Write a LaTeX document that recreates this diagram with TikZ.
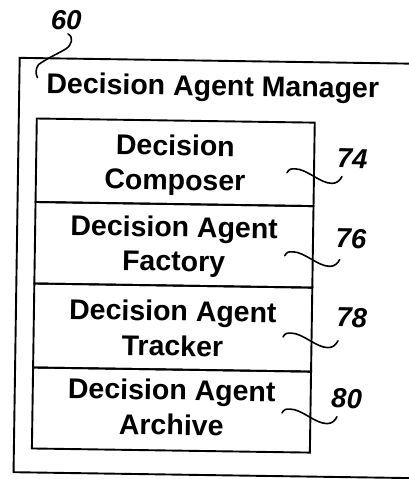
\documentclass[tikz,border=0pt]{standalone}
\usepackage{fontspec}
\setmainfont{Liberation Sans}
\begin{document}
\begin{tikzpicture}[x=1pt,y=-1pt,
  frame/.style={draw,line width=1.9pt,inner sep=0pt,outer sep=0pt},
  boxtext/.style={anchor=base,inner sep=0pt,font=\fontsize{28.5}{34}\selectfont\bfseries},
  refnum/.style={anchor=base,inner sep=0pt,font=\fontsize{27.5}{32}\selectfont\bfseries\itshape},
  leader/.style={draw,line width=1.6pt,line cap=round}]
\useasboundingbox (0,0) rectangle (409,479);
\begin{scope}[rotate around={-0.85:(204,240)},transform shape]
  % outer manager box
  \node[frame,minimum width=397pt,minimum height=414.4pt] (mgr) at (215.5,267.8) {};
  \node[boxtext] (title) at (210.5,95.5) {Decision Agent Manager};
  % inner boxes
  \node[frame,minimum width=278pt,minimum height=83.5pt] (b1) at (174,162.75) {};
  \node[frame,minimum width=278pt,minimum height=81.5pt] (b2) at (174,245.25) {};
  \node[frame,minimum width=278pt,minimum height=84pt] (b3) at (174,328) {};
  \node[frame,minimum width=278pt,minimum height=81pt] (b4) at (174,410.5) {};
  % box texts
  \node[boxtext] (t1a) at (174,156) {Decision};
  \node[boxtext] (t1b) at (174,190.4) {Composer};
  \node[boxtext] (t2a) at (174,237.4) {Decision Agent};
  \node[boxtext] (t2b) at (174,271.4) {Factory};
  \node[boxtext] (t3a) at (174,321.4) {Decision Agent};
  \node[boxtext] (t3b) at (174,356.4) {Tracker};
  \node[boxtext] (t4a) at (174,400.4) {Decision Agent};
  \node[boxtext] (t4b) at (174,435.4) {Archive};
  % reference numerals
  \node[refnum] (n60) at (63,32) {60};
  \node[refnum] (n74) at (351,166) {74};
  \node[refnum] (n76) at (351,246) {76};
  \node[refnum] (n78) at (353,325) {78};
  \node[refnum] (n80) at (349,406) {80};
  % leader lines
  \coordinate (s60) at (65,36);
  \coordinate (s74) at (286,171.5);
  \coordinate (s76) at (285,254.5);
  \coordinate (s78) at (284.5,335.8);
  \coordinate (s80) at (284.6,411.8);
  \draw[leader] (s60) .. controls +(6,3) and +(6,-4) .. ++(-2,15)
     .. controls +(-10,6) and +(8,-6) .. ++(-27,16)
     .. controls +(-3,4) and +(-2,-4) .. ++(-1,13);
  \foreach \s in {s74,s76,s78,s80}{
    \draw[leader] (\s) .. controls +(2,-4) and +(-4,0) .. ++(8,-4)
      .. controls +(12,0) and +(-12,0) .. ++(37,14)
      .. controls +(5,0) and +(-2,4) .. ++(10,-7);
  }
\end{scope}
\end{tikzpicture}
\end{document}
